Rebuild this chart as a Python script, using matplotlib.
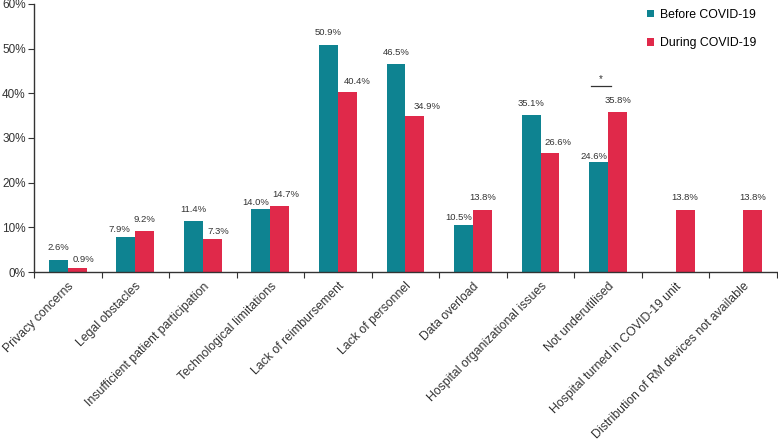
import matplotlib
matplotlib.use("Agg")
import matplotlib.pyplot as plt
import numpy as np

plt.rcParams['font.family'] = ['Liberation Sans', 'DejaVu Sans']

categories = ["Privacy concerns", "Legal obstacles", "Insufficient patient participation",
              "Technological limitations", "Lack of reimbursement", "Lack of personnel",
              "Data overload", "Hospital organizational issues", "Not underutilised",
              "Hospital turned in COVID-19 unit", "Distribution of RM devices not available"]
before = [2.6, 7.9, 11.4, 14.0, 50.9, 46.5, 10.5, 35.1, 24.6, None, None]
during = [0.9, 9.2, 7.3, 14.7, 40.4, 34.9, 13.8, 26.6, 35.8, 13.8, 13.8]
series_names = ["Before COVID-19", "During COVID-19"]
yticks = [0, 10, 20, 30, 40, 50, 60]

# label placement (pixels): horizontal shift and height of label centre above bar top
before_lbl_dx = [0, -6, 0, -5, 0, 0, -5, 0, -4.5, 0, 0]
before_lbl_dy = [13, 7, 12, 7, 12, 12, 8, 12, 6, 0, 0]
during_lbl_dx = [6.5, 0, 6.5, 5.5, 10, 12, 0, 7.5, 0, 0, 0]
during_lbl_dy = [8, 11, 8, 12, 10, 10, 13, 11, 12, 13, 13]

teal = "#0E8391"
red = "#E0294A"
txt = "#333333"

fig = plt.figure(figsize=(7.78, 4.43), dpi=100)
ax = fig.add_axes([0.0437, 0.386, 0.955, 0.605])

w = 0.28
x = np.arange(len(categories))
bx = [i for i, v in zip(x, before) if v is not None]
bv = [v for v in before if v is not None]
b1 = ax.bar(np.array(bx) - w / 2, bv, width=w, color=teal, label=series_names[0])
b2 = ax.bar(x + w / 2, during, width=w, color=red, label=series_names[1])

px2pt = 72 / 100
for xi, v in zip(bx, bv):
    ax.annotate(f"{v:.1f}%", (xi - w / 2, v),
                xytext=(before_lbl_dx[xi] * px2pt, before_lbl_dy[xi] * px2pt),
                textcoords="offset points", ha="center", va="center",
                fontsize=6.8, color=txt)
for xi, v in zip(x, during):
    ax.annotate(f"{v:.1f}%", (xi + w / 2, v),
                xytext=(during_lbl_dx[xi] * px2pt, during_lbl_dy[xi] * px2pt),
                textcoords="offset points", ha="center", va="center",
                fontsize=6.8, color=txt)

# significance marker for "Not underutilised"
ax.plot([8 - 0.25, 8 + 0.04], [41.6, 41.6], color=txt, lw=0.9)
ax.text(8 - 0.105, 42.0, "*", ha="center", va="bottom", fontsize=7, color=txt)

ax.set_xlim(-0.5, len(categories) - 0.5)
ax.set_ylim(0, 60)
ax.set_yticks(yticks)
ax.set_yticklabels([f"{t}%" for t in yticks], fontsize=8.5, color=txt)
ax.set_xticks(np.arange(-0.5, len(categories), 1.0))
ax.set_xticklabels([])
ax.set_xticks(x, minor=True)
ax.set_xticklabels(categories, minor=True, rotation=45, ha="right", rotation_mode="anchor",
                   fontsize=8.8, color=txt)
ax.tick_params(axis="x", which="minor", length=0, pad=6)
ax.tick_params(axis="x", which="major", length=4, direction="out", color=txt)
ax.tick_params(axis="y", length=4, direction="out", color=txt, pad=2)
for s in ["top", "right"]:
    ax.spines[s].set_visible(False)
for s in ["left", "bottom"]:
    ax.spines[s].set_color(txt)
    ax.spines[s].set_linewidth(1.0)

fig.legend(handles=[b1, b2], labels=series_names, loc="upper left",
           bbox_to_anchor=(0.817, 1.005), frameon=False, fontsize=8.8,
           handlelength=0.6, handleheight=0.6, handletextpad=0.5, labelspacing=1.35)

fig.savefig("out.png", dpi=100)
